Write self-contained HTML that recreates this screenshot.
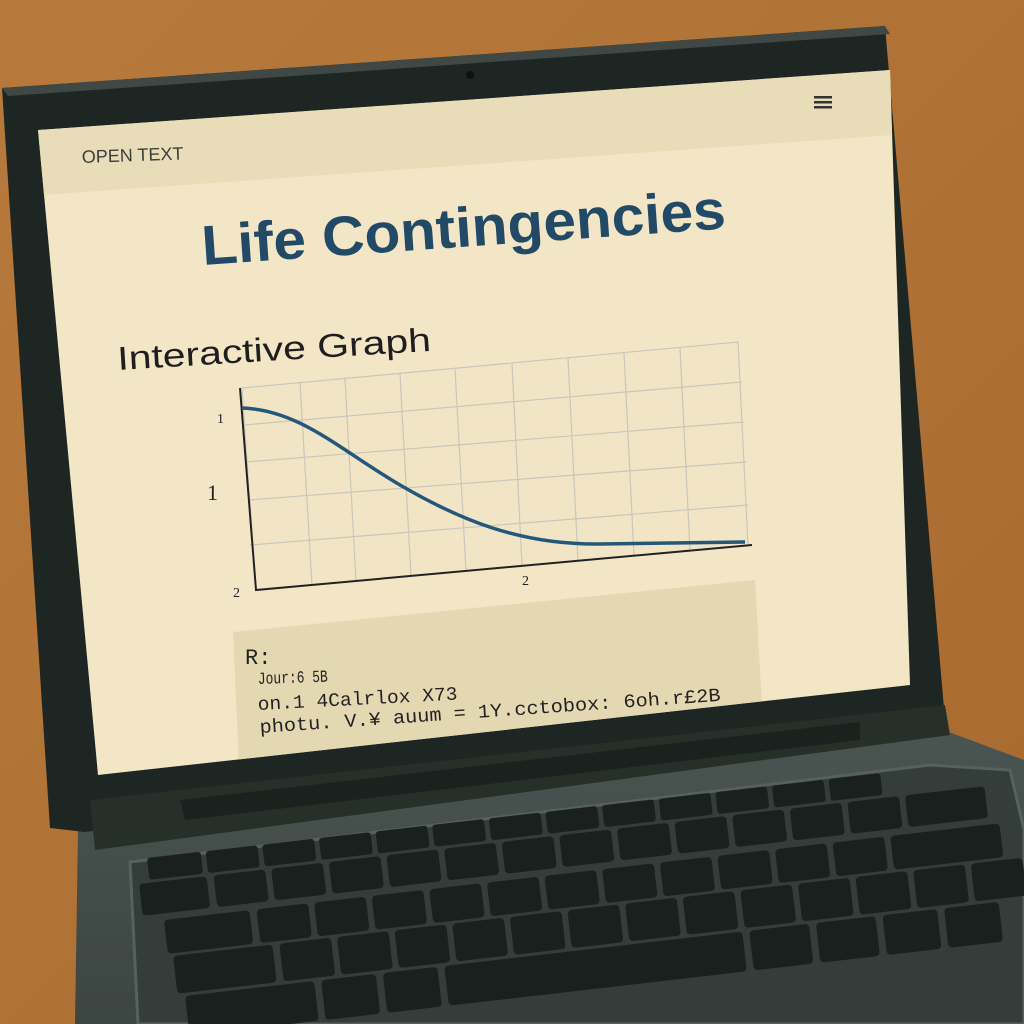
<!DOCTYPE html>
<html><head><meta charset="utf-8"><style>
html,body{margin:0;padding:0;background:#b57838;}
svg{display:block}
</style></head><body>
<svg width="1024" height="1024" viewBox="0 0 1024 1024" xmlns="http://www.w3.org/2000/svg" style="font-family:'Liberation Sans',sans-serif">
<defs>
<linearGradient id="wood" x1="0" y1="0" x2="1" y2="1">
<stop offset="0" stop-color="#b77a3c"/><stop offset="1" stop-color="#a8692e"/>
</linearGradient>
<linearGradient id="base" x1="0" y1="0" x2="0" y2="1">
<stop offset="0" stop-color="#4a5451"/><stop offset="1" stop-color="#3c4542"/>
</linearGradient>
<clipPath id="scr"><polygon points="38,130 890,70 910,685 98,775"/></clipPath>
</defs>
<rect width="1024" height="1024" fill="url(#wood)"/>
<!-- base -->
<polygon points="78,830 938,728 1024,760 1024,1024 75,1024" fill="url(#base)"/>
<polygon points="130,862 930,765 1010,770 1024,830 1024,1024 138,1024" fill="#353d3a" stroke="#56605c" stroke-width="3"/>
<!-- lid -->
<polygon points="2,88 885,26 945,720 85,832 50,828" fill="#1e2623"/>
<polygon points="2,88 885,26 890,34 8,96" fill="#3f4845"/>
<polygon points="90,800 945,705 950,735 95,850" fill="#263029"/>
<polygon points="180,800 860,722 860,740 185,820" fill="#1a211f"/>
<circle cx="470" cy="75" r="4" fill="#0d1110"/>
<!-- screen -->
<polygon points="38,130 890,70 910,685 98,775" fill="#f3e6c7"/>
<g clip-path="url(#scr)">
<polygon points="38,130 890,70 893,135 42,195" fill="#e9dcb8"/>
<g fill="#333"><rect x="814" y="96" width="18" height="2.5"/><rect x="814" y="101" width="18" height="2.5"/><rect x="814" y="106" width="18" height="2.5"/></g>
<text x="82" y="163" font-size="18" fill="#3b403b" transform="rotate(-2 82 163)">OPEN TEXT</text>
<text x="203" y="265" font-size="56" font-weight="bold" fill="#224a66" textLength="525" lengthAdjust="spacingAndGlyphs" transform="rotate(-4 203 265)">Life Contingencies</text>
<text x="118" y="370" font-size="33" fill="#1e1e1e" textLength="314" lengthAdjust="spacingAndGlyphs" transform="rotate(-3.5 118 370)">Interactive Graph</text>
<!-- graph -->
<g stroke="#c9c7bb" stroke-width="1.2" fill="none">
<polygon points="242,388 738,342 748,545 256,590" fill="#f1e5c6"/>
<line x1="300" y1="383" x2="312" y2="585"/><line x1="345" y1="379" x2="356" y2="581"/>
<line x1="400" y1="374" x2="411" y2="576"/><line x1="455" y1="369" x2="466" y2="571"/>
<line x1="512" y1="364" x2="522" y2="566"/><line x1="568" y1="358" x2="578" y2="561"/>
<line x1="624" y1="353" x2="634" y2="556"/><line x1="680" y1="348" x2="690" y2="550"/>
<line x1="244" y1="425" x2="742" y2="382"/><line x1="246" y1="462" x2="744" y2="422"/>
<line x1="248" y1="500" x2="746" y2="462"/><line x1="250" y1="545" x2="748" y2="505"/>
</g>
<polyline points="240,388 256,590 752,545" fill="none" stroke="#222" stroke-width="2"/>
<path d="M242,408 C300,410 340,450 400,485 C460,520 520,545 600,544 L745,542" fill="none" stroke="#24587a" stroke-width="3.5"/>
<g style="font-family:'Liberation Serif',serif" fill="#222">
<text x="217" y="423" font-size="14">1</text>
<text x="207" y="500" font-size="22">1</text>
<text x="233" y="597" font-size="14">2</text>
<text x="522" y="585" font-size="14">2</text>
</g>
<!-- code box -->
<polygon points="233,632 755,580 765,760 240,790" fill="#e4d8b3"/>
<g style="font-family:'Liberation Mono',monospace" fill="#222">
<text x="245" y="664" font-size="22">R:</text>
<text x="258" y="684" font-size="17" textLength="70" lengthAdjust="spacingAndGlyphs" transform="rotate(-2 258 684)">Jour:6 5B</text>
<text x="258" y="710" font-size="19" textLength="200" lengthAdjust="spacingAndGlyphs" transform="rotate(-3 258 710)">on.1 4Calrlox X73</text>
<text x="260" y="733" font-size="19" textLength="462" lengthAdjust="spacingAndGlyphs" transform="rotate(-4 260 733)">photu. V.¥ auum = 1Y.cctobox: 6oh.r£2B</text>
</g>
</g>
<!-- keyboard -->
<g fill="#1a201e">
<g transform="rotate(-6.6 147 858)">
<rect x="147" y="858" width="54" height="22" rx="3"/><rect x="206" y="858" width="52" height="22" rx="3"/><rect x="263" y="858" width="52" height="22" rx="3"/><rect x="320" y="858" width="52" height="22" rx="3"/><rect x="377" y="858" width="52" height="22" rx="3"/><rect x="434" y="858" width="52" height="22" rx="3"/><rect x="491" y="858" width="52" height="22" rx="3"/><rect x="548" y="858" width="52" height="22" rx="3"/><rect x="605" y="858" width="52" height="22" rx="3"/><rect x="662" y="858" width="52" height="22" rx="3"/><rect x="719" y="858" width="52" height="22" rx="3"/><rect x="776" y="858" width="52" height="22" rx="3"/><rect x="833" y="858" width="52" height="22" rx="3"/>
</g>
<g transform="rotate(-6.6 139 884)">
<rect x="139" y="884" width="68" height="32" rx="4"/><rect x="214" y="884" width="52" height="32" rx="4"/><rect x="272" y="884" width="52" height="32" rx="4"/><rect x="330" y="884" width="52" height="32" rx="4"/><rect x="388" y="884" width="52" height="32" rx="4"/><rect x="446" y="884" width="52" height="32" rx="4"/><rect x="504" y="884" width="52" height="32" rx="4"/><rect x="562" y="884" width="52" height="32" rx="4"/><rect x="620" y="884" width="52" height="32" rx="4"/><rect x="678" y="884" width="52" height="32" rx="4"/><rect x="736" y="884" width="52" height="32" rx="4"/><rect x="794" y="884" width="52" height="32" rx="4"/><rect x="852" y="884" width="52" height="32" rx="4"/><rect x="910" y="884" width="80" height="32" rx="4"/>
</g>
<g transform="rotate(-6.6 164 920)">
<rect x="164" y="920" width="86" height="34" rx="4"/><rect x="257" y="920" width="52" height="34" rx="4"/><rect x="315" y="920" width="52" height="34" rx="4"/><rect x="373" y="920" width="52" height="34" rx="4"/><rect x="431" y="920" width="52" height="34" rx="4"/><rect x="489" y="920" width="52" height="34" rx="4"/><rect x="547" y="920" width="52" height="34" rx="4"/><rect x="605" y="920" width="52" height="34" rx="4"/><rect x="663" y="920" width="52" height="34" rx="4"/><rect x="721" y="920" width="52" height="34" rx="4"/><rect x="779" y="920" width="52" height="34" rx="4"/><rect x="837" y="920" width="52" height="34" rx="4"/><rect x="895" y="920" width="110" height="34" rx="4"/>
</g>
<g transform="rotate(-6.6 173 956)">
<rect x="173" y="956" width="100" height="38" rx="4"/><rect x="280" y="956" width="52" height="38" rx="4"/><rect x="338" y="956" width="52" height="38" rx="4"/><rect x="396" y="956" width="52" height="38" rx="4"/><rect x="454" y="956" width="52" height="38" rx="4"/><rect x="512" y="956" width="52" height="38" rx="4"/><rect x="570" y="956" width="52" height="38" rx="4"/><rect x="628" y="956" width="52" height="38" rx="4"/><rect x="686" y="956" width="52" height="38" rx="4"/><rect x="744" y="956" width="52" height="38" rx="4"/><rect x="802" y="956" width="52" height="38" rx="4"/><rect x="860" y="956" width="52" height="38" rx="4"/><rect x="918" y="956" width="52" height="38" rx="4"/><rect x="976" y="956" width="52" height="38" rx="4"/>
</g>
<g transform="rotate(-6.6 185 996)">
<rect x="185" y="996" width="130" height="40" rx="4"/><rect x="322" y="996" width="55" height="40" rx="4"/><rect x="384" y="996" width="55" height="40" rx="4"/><rect x="446" y="996" width="300" height="40" rx="4"/><rect x="753" y="996" width="60" height="40" rx="4"/><rect x="820" y="996" width="60" height="40" rx="4"/><rect x="887" y="996" width="55" height="40" rx="4"/><rect x="949" y="996" width="55" height="40" rx="4"/>
</g>
</g>
</svg>
</body></html>
